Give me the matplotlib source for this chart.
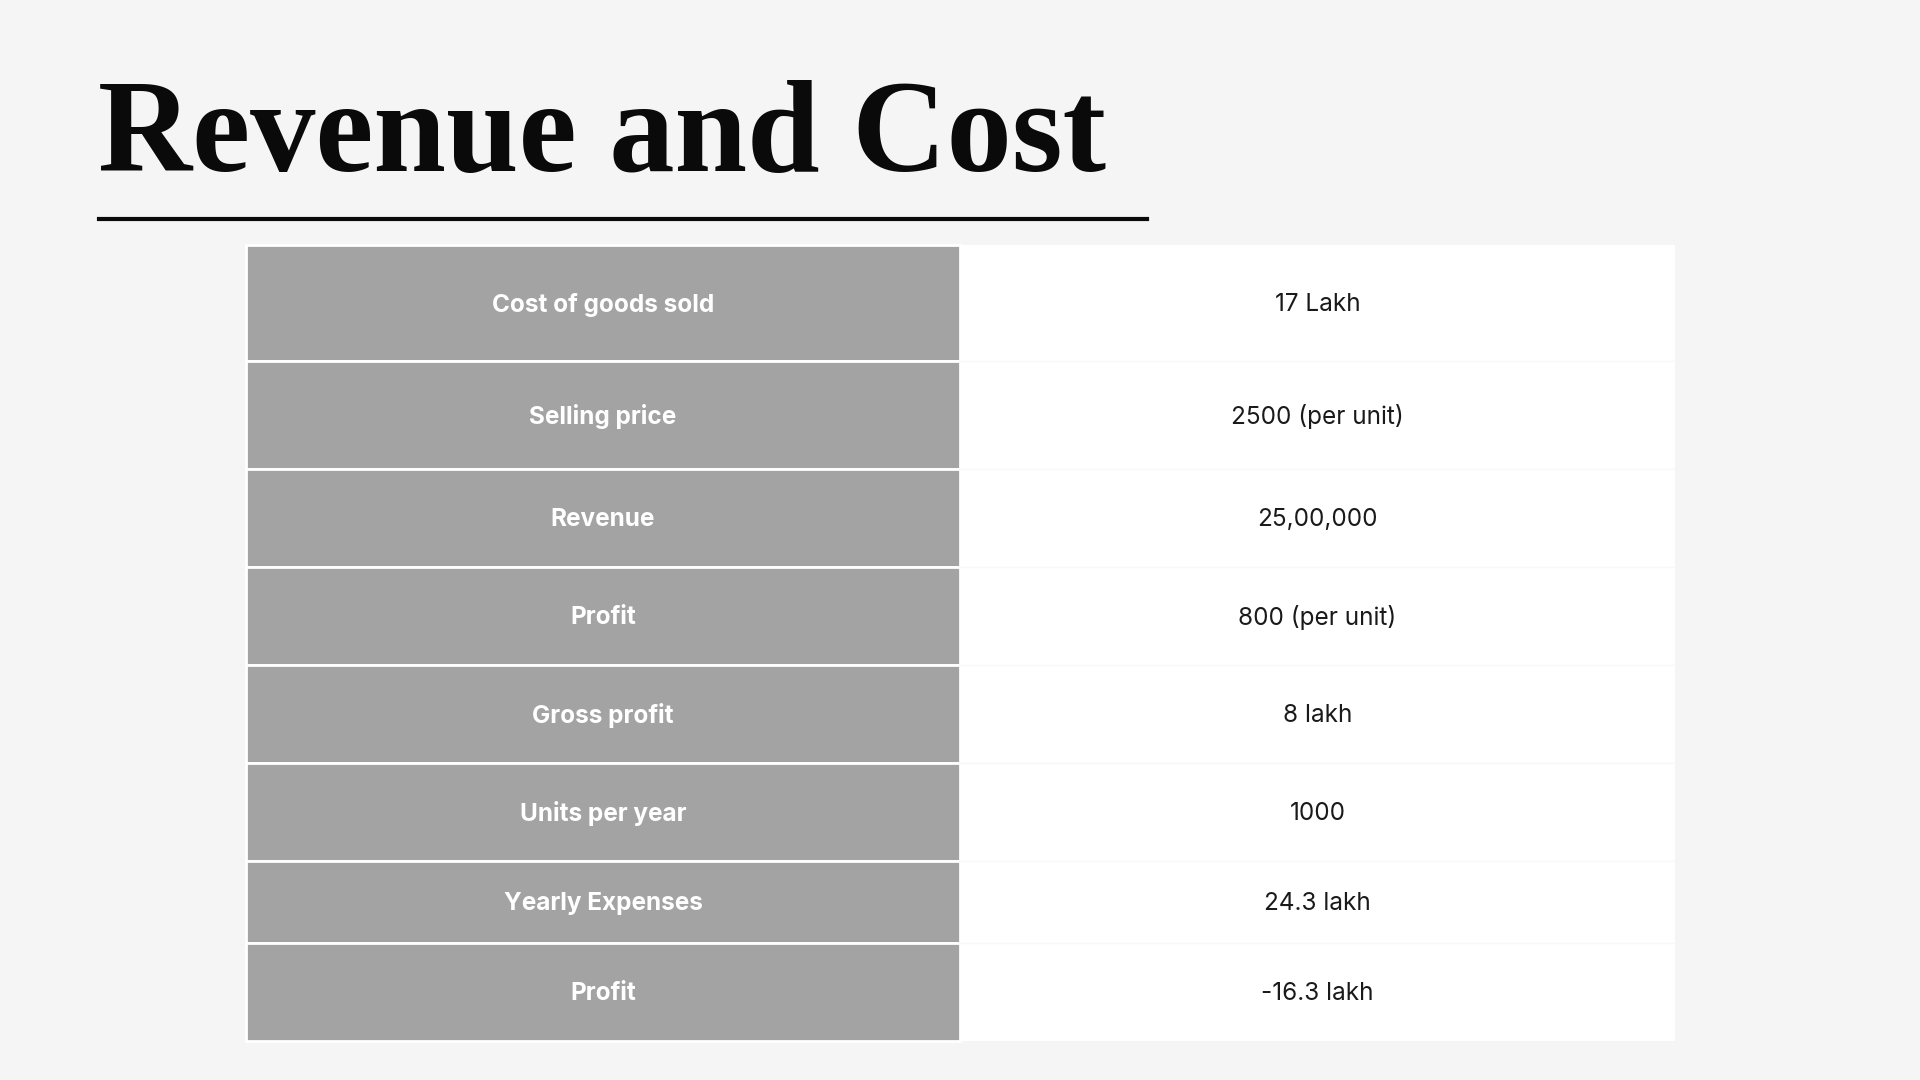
import matplotlib
matplotlib.use("Agg")
import matplotlib.pyplot as plt
from matplotlib.patches import Rectangle

labels = ["Cost of goods sold", "Selling price", "Revenue", "Profit", "Gross profit",
          "Units per year", "Yearly Expenses", "Profit"]
values = ["17 Lakh", "2500 (per unit)", "25,00,000", "800 (per unit)", "8 lakh",
          "1000", "24.3 lakh", "-16.3 lakh"]
row_edges = [200, 295, 383, 463, 543, 623, 703, 770, 850]

fig = plt.figure(figsize=(19.2, 10.8), dpi=100)
fig.patch.set_facecolor("#f5f5f5")
ax = fig.add_axes([0, 0, 1, 1])
ax.set_xlim(0, 1568)
ax.set_ylim(882, 0)
ax.axis("off")

ax.text(80, 140, "Revenue and Cost", family="Liberation Serif", weight="bold",
        fontsize=94, color="#0a0a0a", ha="left", va="baseline")
ax.plot([81, 937], [179, 179], color="#0a0a0a", lw=3)

L, M, R = 201, 784, 1368
ax.add_patch(Rectangle((M, row_edges[0]), R - M, row_edges[-1] - row_edges[0],
                       facecolor="white", edgecolor="none"))
for i, (lab, val) in enumerate(zip(labels, values)):
    y0, y1 = row_edges[i], row_edges[i + 1]
    ax.add_patch(Rectangle((L, y0), M - L, y1 - y0, facecolor="#a3a3a3",
                           edgecolor="white", lw=2))
    yc = (y0 + y1) / 2 + 1.5
    ax.text((L + M) / 2, yc, lab, family="Inter", weight="bold", fontsize=17.5,
            color="white", ha="center", va="center")
    ax.text((M + R) / 2, yc, val, family="Inter", fontsize=17.5,
            color="#1a1a1a", ha="center", va="center")
    if i > 0:
        ax.plot([M, R], [y0, y0], color="#f7f7f7", lw=1)

fig.savefig("out.png", dpi=100, facecolor=fig.get_facecolor())
